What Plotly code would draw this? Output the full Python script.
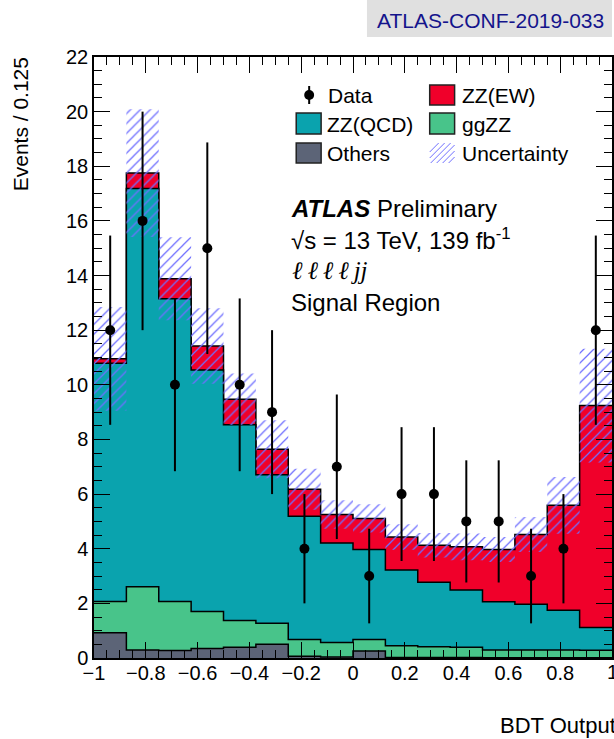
import numpy as np
import plotly.graph_objects as go

# ---------------- data ----------------
bin_edges = [-1.0, -0.875, -0.75, -0.625, -0.5, -0.375, -0.25, -0.125, 0.0,
             0.125, 0.25, 0.375, 0.5, 0.625, 0.75, 0.875, 1.0]
data_counts = [12, 16, 10, 15, 10, 9, 4, 7, 3, 6, 6, 5, 5, 3, 4, 12]
others = [0.92, 0.29, 0.27, 0.35, 0.39, 0.50, 0.06, 0.04, 0.26, 0.02, 0.02, 0.02, 0.01, 0.01, 0.01, 0.01]
ggzz = [1.15, 2.32, 1.80, 1.35, 0.98, 0.77, 0.62, 0.53, 0.42, 0.43, 0.39, 0.37, 0.28, 0.28, 0.28, 0.27]
zz_qcd = [8.72, 14.58, 11.08, 8.84, 7.17, 5.44, 4.51, 3.64, 3.29, 2.77, 2.36, 2.10, 1.77, 1.68, 1.46, 0.84]
zz_ew = [0.16, 0.56, 0.73, 0.88, 0.93, 0.93, 0.99, 1.04, 1.14, 1.21, 1.36, 1.58, 1.91, 2.55, 3.84, 8.12]
uncertainty = [1.90, 2.34, 1.52, 1.38, 0.94, 1.06, 0.75, 0.52, 0.52, 0.47, 0.45, 0.49, 0.46, 0.64, 1.04, 2.08]
y_tick_vals = list(range(0, 23, 2))

# ---------------- layout helpers ----------------
W, H = 614, 739
L, R, T, B = 94, 0, 57, 81
FONT = "Liberation Sans, Arial, Helvetica, sans-serif"
SERIF = "Liberation Serif, DejaVu Serif, serif"


def px(x):
    return (x - L) / (W - L - R)


def py(y):
    return (H - B - y) / (H - T - B)


edges = np.array(bin_edges)
centers = (edges[:-1] + edges[1:]) / 2

c_others = np.array(others)
c_gg = c_others + np.array(ggzz)
c_qcd = c_gg + np.array(zz_qcd)
c_ew = c_qcd + np.array(zz_ew)
unc = np.array(uncertainty)


def step(vals):
    v = list(vals)
    return v + [v[-1]]


COL_EW = "#f0002a"
COL_QCD = "#0aa3ae"
COL_GG = "#48c48a"
COL_OTH = "#5c6477"
COL_HATCH = "#6f6fff"

fig = go.Figure()

for cum, color in [(c_ew, COL_EW), (c_qcd, COL_QCD), (c_gg, COL_GG), (c_others, COL_OTH)]:
    fig.add_trace(go.Scatter(
        x=edges, y=step(cum), mode="lines",
        line=dict(shape="hv", color="black", width=1.5),
        fill="tozeroy", fillcolor=color, showlegend=False, hoverinfo="skip"))

# uncertainty band (hatched)
fig.add_trace(go.Scatter(
    x=edges, y=step(c_ew - unc), mode="lines",
    line=dict(shape="hv", width=0, color="rgba(0,0,0,0)"),
    showlegend=False, hoverinfo="skip"))
fig.add_trace(go.Scatter(
    x=edges, y=step(c_ew + unc), mode="lines",
    line=dict(shape="hv", width=0, color="rgba(0,0,0,0)"),
    fill="tonexty", fillcolor="rgba(0,0,0,0)",
    fillpattern=dict(shape="/", fgcolor=COL_HATCH, bgcolor="rgba(0,0,0,0)",
                     size=7, solidity=0.18, fillmode="replace"),
    showlegend=False, hoverinfo="skip"))

# data
fig.add_trace(go.Scatter(
    x=centers, y=data_counts, mode="markers",
    marker=dict(color="black", size=10),
    error_y=dict(type="data", array=np.sqrt(np.array(data_counts, dtype=float)),
                 width=0, thickness=2, color="black"),
    showlegend=False))

axis_common = dict(
    showgrid=False, zeroline=False, showline=True, linecolor="black", linewidth=1.5,
    mirror="ticks", ticks="inside", ticklen=16, tickwidth=1.2, tickcolor="black",
    tickfont=dict(family=FONT, size=20, color="black"),
)

fig.update_layout(
    width=W, height=H,
    margin=dict(l=L, r=R, t=T, b=B, pad=0),
    paper_bgcolor="white", plot_bgcolor="white",
    showlegend=False,
    font=dict(family=FONT, size=20, color="black"),
    xaxis=dict(range=[-1, 1], tickmode="linear", tick0=-1, dtick=0.2, ticklabelstandoff=-4,
               minor=dict(ticks="inside", ticklen=8, tick0=-1, dtick=0.05, tickcolor="black", tickwidth=1.2),
               **axis_common),
    yaxis=dict(range=[0, 22], tickmode="array", tickvals=y_tick_vals,
               minor=dict(ticks="inside", ticklen=8, tick0=0, dtick=0.5, tickcolor="black", tickwidth=1.2),
               **axis_common),
)

shapes = []
annotations = []


def text(x, y, s, size=21, anchor="left", color="black", family=FONT, **kw):
    annotations.append(dict(xref="paper", yref="paper", x=px(x), y=py(y), text=s,
                            showarrow=False, xanchor=anchor, yanchor="middle",
                            font=dict(family=family, size=size, color=color), **kw))


def box(x0, y0, x1, y1, fill, line=True):
    shapes.append(dict(type="rect", xref="paper", yref="paper",
                       x0=px(x0), x1=px(x1), y0=py(y1), y1=py(y0),
                       fillcolor=fill,
                       line=dict(color="#222222" if line else "rgba(0,0,0,0)", width=1.5 if line else 0)))


# ATLAS-CONF label box
box(368, 0, 614, 37, "#e0e0e0", line=False)
text(492, 20, "ATLAS-CONF-2019-033", size=21, anchor="center", color="#14148c")

# legend
shapes.append(dict(type="line", xref="paper", yref="paper", x0=px(310), x1=px(310),
                   y0=py(86), y1=py(104), line=dict(color="black", width=2)))
shapes.append(dict(type="circle", xref="paper", yref="paper", x0=px(305), x1=px(315),
                   y0=py(100), y1=py(90), fillcolor="black", line=dict(color="black", width=0)))
text(327, 95, "Data")
box(431, 85, 456, 105, COL_EW)
text(461, 95, "ZZ(EW)")
box(297, 113, 322, 134, COL_QCD)
text(326, 124, "ZZ(QCD)")
box(431, 113, 456, 134, COL_GG)
text(461, 124, "ggZZ")
box(297, 143, 322, 163, COL_OTH)
text(326, 153, "Others")
for x0 in range(420, 460, 6):
    xs = max(431, x0)
    xe = min(456, x0 + 20)
    if xe - xs > 1:
        shapes.append(dict(type="line", xref="paper", yref="paper",
                           x0=px(xs), x1=px(xe), y0=py(163 - (xs - x0)), y1=py(163 - (xe - x0)),
                           line=dict(color=COL_HATCH, width=1)))
text(461, 153, "Uncertainty")

# ATLAS text block
text(290, 208, "<b><i>ATLAS</i></b> Preliminary", size=24)
text(290, 239, "√s = 13 TeV, 139 fb<sup>-1</sup>", size=24)
text(291, 270, "<i>ℓ\u2009ℓ\u2009ℓ\u2009ℓ\u2009jj</i>", size=25, family=SERIF)
text(290, 302, "Signal Region", size=24)

# axis titles
annotations.append(dict(xref="paper", yref="paper", x=px(20), y=py(55), text="Events / 0.125",
                        textangle=-90, showarrow=False, xanchor="center", yanchor="top",
                        font=dict(family=FONT, size=21, color="black")))
text(500, 726, "BDT Output", size=22)
# last x tick label ("1") sits on the canvas edge
text(614, 672, "1", size=20, anchor="center")

fig.update_layout(shapes=shapes, annotations=annotations)

fig.write_html("out.html")
